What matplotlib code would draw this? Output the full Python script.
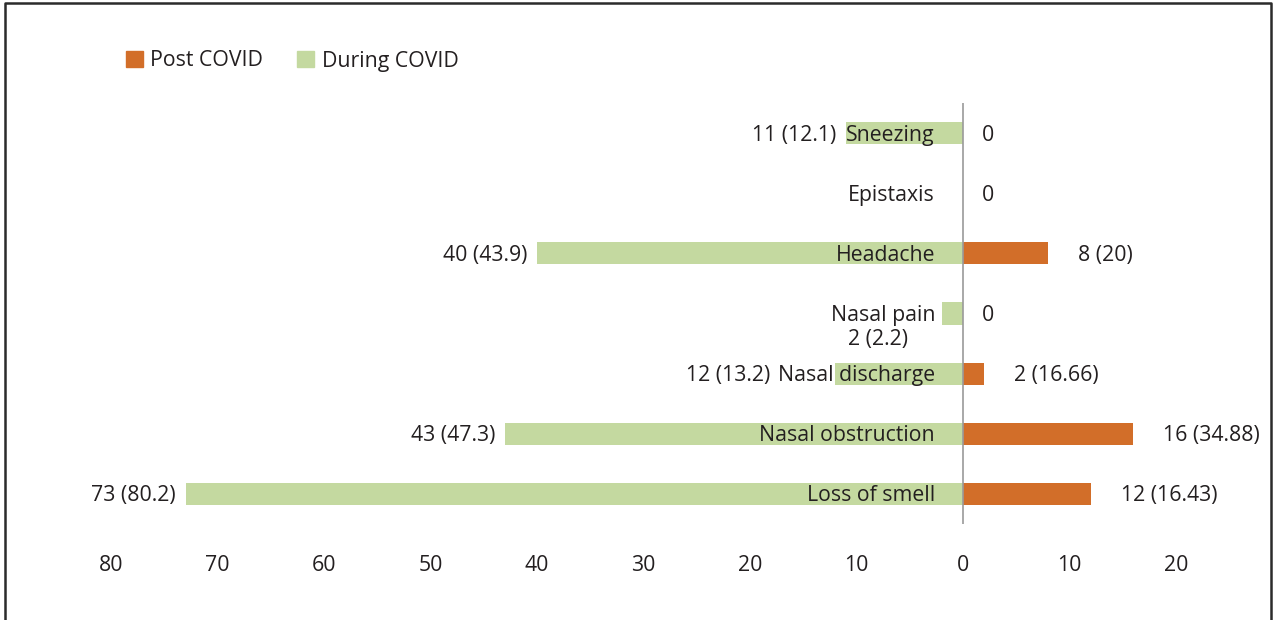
import matplotlib
matplotlib.use('Agg')
import matplotlib.pyplot as plt
from matplotlib.patches import Patch
from matplotlib.lines import Line2D

plt.rcParams['font.family'] = ['Open Sans', 'DejaVu Sans']

#%% Datos
sintomas = ['Loss of smell', 'Nasal obstruction', 'Nasal discharge', 'Nasal pain',
            'Headache', 'Epistaxis', 'Sneezing']
durante = [73, 43, 12, 2, 40, 0, 11]
post = [12, 16, 2, 0, 8, 0, 0]
etiq_durante = ['73 (80.2)', '43 (47.3)', '12 (13.2)', '2 (2.2)', '40 (43.9)', '', '11 (12.1)']
etiq_post = ['12 (16.43)', '16 (34.88)', '2 (16.66)', '0', '8 (20)', '0', '0']
ticks = [-80, -70, -60, -50, -40, -30, -20, -10, 0, 10, 20]
tick_labels = ['80', '70', '60', '50', '40', '30', '20', '10', '0', '10', '20']

color_post = '#D26E29'
color_durante = '#C4D9A0'
texto = '#231F20'
fs = 15.3

#%% Grafico
fig = plt.figure(figsize=(12.74, 6.20), dpi=100)
ax = fig.add_axes([0.04533, 0.15484, 0.92791, 0.67903])

y = list(range(len(sintomas)))
ax.barh(y, [-v for v in durante], height=0.37, color=color_durante)
ax.barh(y, post, height=0.37, color=color_post)
ax.axvline(0, color='#9A9A9A', lw=1.2)

ax.set_xlim(-85, 26)
ax.set_ylim(-0.5, 6.5)
for s in ax.spines.values():
    s.set_visible(False)
ax.set_yticks([])
ax.set_xticks(ticks)
ax.set_xticklabels(tick_labels)
ax.tick_params(axis='x', length=0, pad=22, labelsize=fs, labelcolor=texto)

# desplazamientos especiales (en pixeles) para etiquetas que se superponen
ajuste_izq = {'Nasal discharge': (-65, -2, 'right'), 'Nasal pain': (-64, -26, 'center')}
baja = -2  # las etiquetas quedan un poco mas abajo que el centro de la barra

for i, nombre in enumerate(sintomas):
    ax.annotate(nombre, (0, i), xytext=(-28, baja), textcoords='offset pixels',
                ha='right', va='center', fontsize=fs, color=texto)
    if etiq_durante[i]:
        dx, dy, ha = ajuste_izq.get(nombre, (-10, baja, 'right'))
        ax.annotate(etiq_durante[i], (-durante[i], i), xytext=(dx, dy),
                    textcoords='offset pixels', ha=ha, va='center',
                    fontsize=fs, color=texto)
    dx = 19 if post[i] == 0 else 30
    ax.annotate(etiq_post[i], (post[i], i), xytext=(dx, baja), textcoords='offset pixels',
                ha='left', va='center', fontsize=fs, color=texto)

handles = [Patch(color=color_post, label='Post COVID'),
           Patch(color=color_durante, label='During COVID')]
fig.legend(handles=handles, loc='center left', bbox_to_anchor=(126 / 1274, 1 - 61 / 620),
           ncol=2, frameon=False, fontsize=fs, handlelength=0.8, handleheight=0.8,
           handletextpad=0.35, columnspacing=1.6, borderpad=0, borderaxespad=0,
           labelcolor=texto)

# marco
W, H = 1274, 620
fig.add_artist(Line2D([5 / W, 5 / W, 1271 / W, 1271 / W], [0, 1 - 3 / H, 1 - 3 / H, 0],
                      transform=fig.transFigure, color='#2B2B2B', lw=1.8))

plt.savefig('out.png', dpi=100)
